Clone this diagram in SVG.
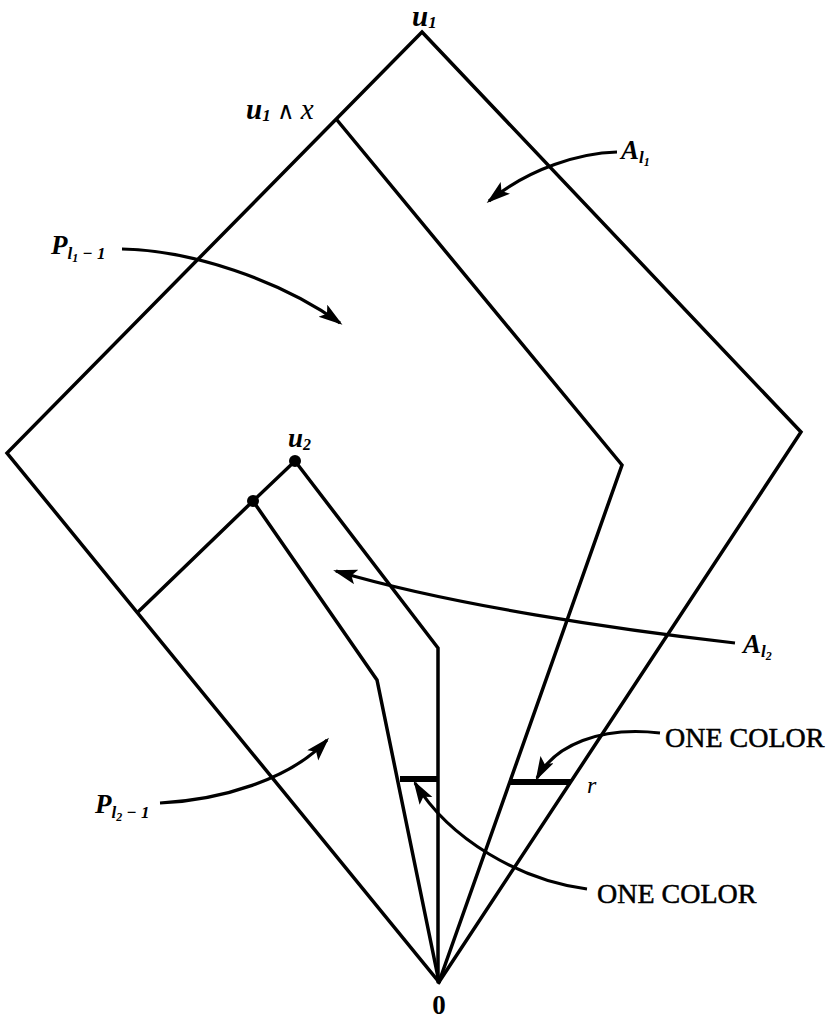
<svg xmlns="http://www.w3.org/2000/svg" width="835" height="1019" viewBox="0 0 835 1019">
<style>
.ln{fill:none;stroke:#000;stroke-width:3.5;stroke-linejoin:miter;stroke-linecap:round}
.ar{fill:none;stroke:#000;stroke-width:3.2;marker-end:url(#ah)}
.bar{stroke:#000;stroke-width:6}
.m{font-family:"Liberation Serif",serif;font-style:italic;font-weight:bold;fill:#000}
.t{font-family:"Liberation Serif",serif;font-size:28px;fill:#000;stroke:#000;stroke-width:0.5}
.z{font-family:"Liberation Serif",serif;font-weight:bold;font-size:27px;fill:#000}
</style>
<defs>
<marker id="ah" markerUnits="userSpaceOnUse" markerWidth="26" markerHeight="16" refX="21" refY="7.5" orient="auto">
<path d="M0,0 L24,7.5 L0,15 L5,7.5 Z" fill="#000"/>
</marker>
</defs>
<g id="frame">
<path class="ln" d="M422,32 L801,432 L439,982 L7,453 Z"/>
<path class="ln" d="M337,120 L622,465 L439,982"/>
<path class="ln" d="M138,612 L253,501 L295,461 L438,648 L438,982"/>
<path class="ln" d="M253,501 L377,680 L439,982"/>
<line class="bar" x1="400" y1="779" x2="438" y2="779"/>
<line class="bar" x1="510" y1="782" x2="571" y2="782"/>
<circle cx="295" cy="461" r="6"/>
<circle cx="253" cy="501" r="6"/>
</g>
<g id="connectors">
<path class="ar" d="M617,152 C580,153 530,168 489,201"/>
<path class="ar" d="M122,249 C190,250 280,280 340,323"/>
<path class="ar" d="M735,643 C620,630 450,605 336,571"/>
<path class="ar" d="M660,733 C600,726 555,745 537,778"/>
<path class="ar" d="M587,889 C520,880 450,840 415,783"/>
<path class="ar" d="M160,803 C220,800 290,780 327,740"/>
</g>
<g id="label-u1"><text class="m" x="412" y="26" font-size="29">u<tspan font-size="17" dy="2">1</tspan></text></g>
<g id="label-u1x"><text class="m" x="246" y="119" font-size="29">u<tspan font-size="17" dy="2">1</tspan><tspan dy="-2" style="font-style:normal;font-weight:normal" font-size="24"> ∧ </tspan><tspan style="font-weight:normal">x</tspan></text></g>
<g id="label-Al1"><text class="m" x="621" y="159" font-size="27">A<tspan font-size="17" dy="4">l</tspan><tspan font-size="12" dy="3">1</tspan></text></g>
<g id="label-Pl1"><text class="m" x="51" y="254" font-size="27">P<tspan font-size="17" dy="5">l</tspan><tspan font-size="12" dy="3">1</tspan><tspan font-size="17" dy="-3"> − 1</tspan></text></g>
<g id="label-u2"><text class="m" x="288" y="447" font-size="27">u<tspan font-size="16" dy="3">2</tspan></text></g>
<g id="label-Al2"><text class="m" x="743" y="653" font-size="27">A<tspan font-size="17" dy="4">l</tspan><tspan font-size="12" dy="3">2</tspan></text></g>
<g id="label-Pl2"><text class="m" x="95" y="813" font-size="27">P<tspan font-size="17" dy="5">l</tspan><tspan font-size="12" dy="3">2</tspan><tspan font-size="17" dy="-3"> − 1</tspan></text></g>
<g id="label-oc1"><text class="t" x="665" y="747">ONE COLOR</text></g>
<g id="label-oc2"><text class="t" x="597" y="903">ONE COLOR</text></g>
<g id="label-r"><text class="m" x="587" y="793" font-size="24" style="font-weight:normal">r</text></g>
<g id="label-0"><text class="z" x="439" y="1014" text-anchor="middle">0</text></g>
</svg>
